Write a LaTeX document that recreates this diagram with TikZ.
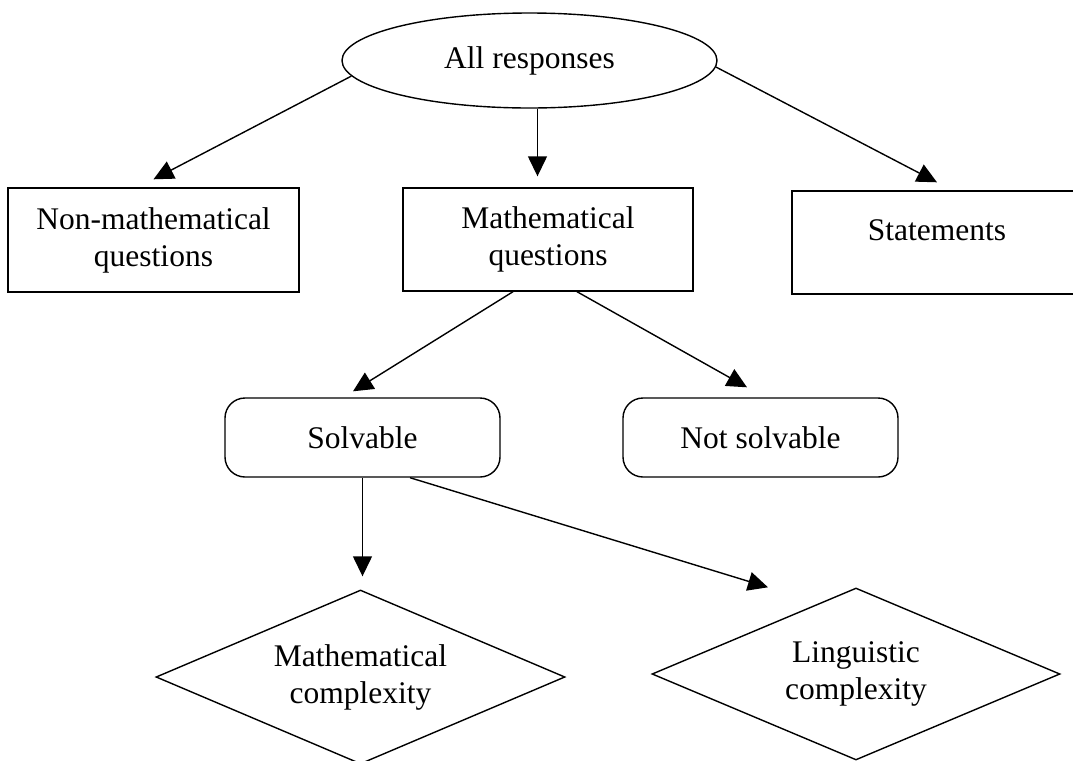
\documentclass[tikz,border=0pt]{standalone}
\usepackage{fontspec}
\setmainfont{Liberation Serif}
\usetikzlibrary{shapes.geometric,arrows.meta}

\tikzset{
  box/.style={draw, line width=0.7pt, align=center, inner sep=0pt,
    minimum width=145pt, minimum height=51.5pt},
  roundbox/.style={box, rounded corners=10pt, minimum width=137.5pt, minimum height=39.5pt},
  choice/.style={draw, diamond, aspect=2.35, line width=0.7pt, align=center, inner sep=0pt,
    minimum width=204.5pt, minimum height=87pt},
  arr/.style={-{Triangle[length=10pt,width=9.5pt]}, line width=0.7pt}
}

\begin{document}
\begin{tikzpicture}[x=0.5pt, y=-0.5pt, font=\fontsize{15.75pt}{18.5pt}\selectfont]
   \useasboundingbox (0,0) rectangle (1073,761);

   \node[draw, ellipse, line width=0.7pt, inner sep=0pt,
     minimum width=187.5pt, minimum height=47.5pt] (resp) at (529.5,60.5) {All responses};

   \node[box, minimum width=145.5pt, minimum height=52pt] (nonmath) at (153.5,240) {Non-mathematical\\questions};
   \node[box] (mathq) at (548,239.5) {Mathematical\\questions};
   \node[box, text height=11pt, text depth=13.5pt] (stmt) at (937,242.5) {Statements}; % text sits high
   \node[roundbox] (solv) at (362.5,437.5) {Solvable};
   \node[roundbox] (notsolv) at (760.5,437.5) {Not solvable};
   \node[choice] (mathcx) at (360.5,677) {Mathematical\\complexity};
   \node[choice, minimum width=204pt, minimum height=86pt] (lingcx) at (856,674) {Linguistic\\complexity};

   \draw[arr] (resp.185) -- ([yshift=4pt]nonmath.north);
   \draw[arr] ([xshift=4pt]resp.south) -- ([xshift=-5.25pt,yshift=5.5pt]mathq.north);
   \draw[arr] (resp.358) -- ([yshift=4pt]stmt.north);
   \draw[arr] ([xshift=-17.5pt]mathq.south) -- ([xshift=-4.75pt,yshift=3pt]solv.north);
   \draw[arr] ([xshift=14.5pt]mathq.south) -- ([xshift=-6.75pt,yshift=5pt]notsolv.north);
   \draw[arr] (solv.south) -- ([xshift=1pt,yshift=6.5pt]mathcx.north);
   \draw[arr] ([xshift=23.75pt]solv.south) -- ([xshift=-44pt]lingcx.north);
\end{tikzpicture}
\end{document}
